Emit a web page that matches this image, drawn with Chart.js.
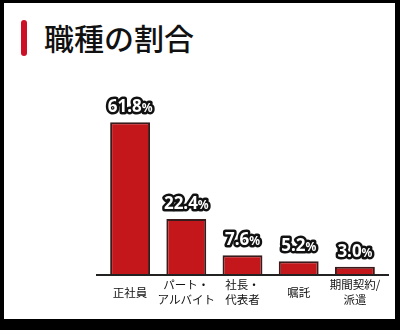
<!DOCTYPE html>
<html lang="ja">
<head>
<meta charset="utf-8">
<script src="https://cdn.jsdelivr.net/npm/chart.js@4"></script>
<style>
  html, body { margin: 0; padding: 0; background: #000; }
  #frame {
    position: relative;
    width: 400px;
    height: 330px;
    overflow: hidden;
  }
  #panel {
    position: absolute;
    left: 4px; top: 3px;
    width: 391px; height: 316px;
    background: #fff;
  }
  #title-bar {
    position: absolute;
    left: 21px; top: 20px;
    width: 6px; height: 36px;
    border-radius: 3px;
    background: #cc1126;
  }
  #title {
    position: absolute;
    left: 44px; top: 17px;
    font-family: "Noto Sans CJK JP", sans-serif;
    font-size: 30px;
    font-weight: 500;
    line-height: 40px;
    color: #111;
    margin: 0;
  }
  #chart { position: absolute; left: 0; top: 0; }
</style>
</head>
<body>
<div id="frame">
  <div id="panel"></div>
  <div id="title-bar"></div>
  <h1 id="title">職種の割合</h1>
  <canvas id="chart" width="400" height="330"></canvas>
</div>
<script>
const categories = [
  ['正社員'],
  ['パート・', 'アルバイト'],
  ['社長・', '代表者'],
  ['嘱託'],
  ['期間契約/', '派遣'],
];
const shares = [61.8, 22.4, 7.6, 5.2, 3.0];

const barFill = '#c3171c';
const barEdge = '#3a1b1b';

/* outlined value labels + baseline that overhangs the plot */
const decorPlugin = {
  id: 'decor',
  afterDatasetsDraw(chart) {
    const { ctx, chartArea, scales } = chart;
    const y0 = scales.y.getPixelForValue(0);

    ctx.save();
    ctx.strokeStyle = '#222';
    ctx.lineWidth = 2;
    ctx.beginPath();
    ctx.moveTo(chartArea.left - 6, y0 + 1);
    ctx.lineTo(chartArea.right + 6, y0 + 1);
    ctx.stroke();

    const bars = chart.getDatasetMeta(0).data;
    ctx.textBaseline = 'alphabetic';
    ctx.lineJoin = 'round';
    bars.forEach((bar, i) => {
      const num = shares[i].toFixed(1);
      const big = 'bold 17px "Noto Sans", sans-serif';
      const small = 'bold 12px "Noto Sans", sans-serif';
      ctx.font = big;
      const wNum = ctx.measureText(num).width;
      ctx.font = small;
      const wPct = ctx.measureText('%').width;
      const x = bar.x - (wNum + wPct) / 2;
      const y = bar.y - 10;

      ctx.lineWidth = 5;
      ctx.strokeStyle = '#111';
      ctx.fillStyle = '#fff';
      ctx.font = big;
      ctx.strokeText(num, x, y);
      ctx.font = small;
      ctx.strokeText('%', x + wNum, y);
      ctx.font = big;
      ctx.fillText(num, x, y);
      ctx.font = small;
      ctx.fillText('%', x + wNum, y);
    });
    ctx.restore();
  },
};

new Chart(document.getElementById('chart'), {
  type: 'bar',
  data: {
    labels: categories,
    datasets: [{
      data: shares,
      backgroundColor: barFill,
      borderColor: barEdge,
      borderWidth: 2,
      borderSkipped: 'bottom',
      categoryPercentage: 1,
      barPercentage: 0.71,
    }],
  },
  options: {
    responsive: false,
    animation: false,
    events: [],
    layout: { padding: { left: 102, right: 17, top: 102, bottom: 0 } },
    plugins: { legend: { display: false }, tooltip: { enabled: false } },
    scales: {
      x: {
        grid: { display: false, drawTicks: false },
        border: { display: false },
        afterFit: (s) => { s.height = 56; },
        ticks: {
          padding: 11,
          crossAlign: 'center',
          maxRotation: 0,
          autoSkip: false,
          color: '#111',
          font: { family: '"Noto Sans CJK JP", sans-serif', size: 11.5, lineHeight: 1.25 },
        },
      },
      y: {
        display: false,
        min: 0,
        max: 70,
      },
    },
  },
  plugins: [decorPlugin],
});
</script>
</body>
</html>
